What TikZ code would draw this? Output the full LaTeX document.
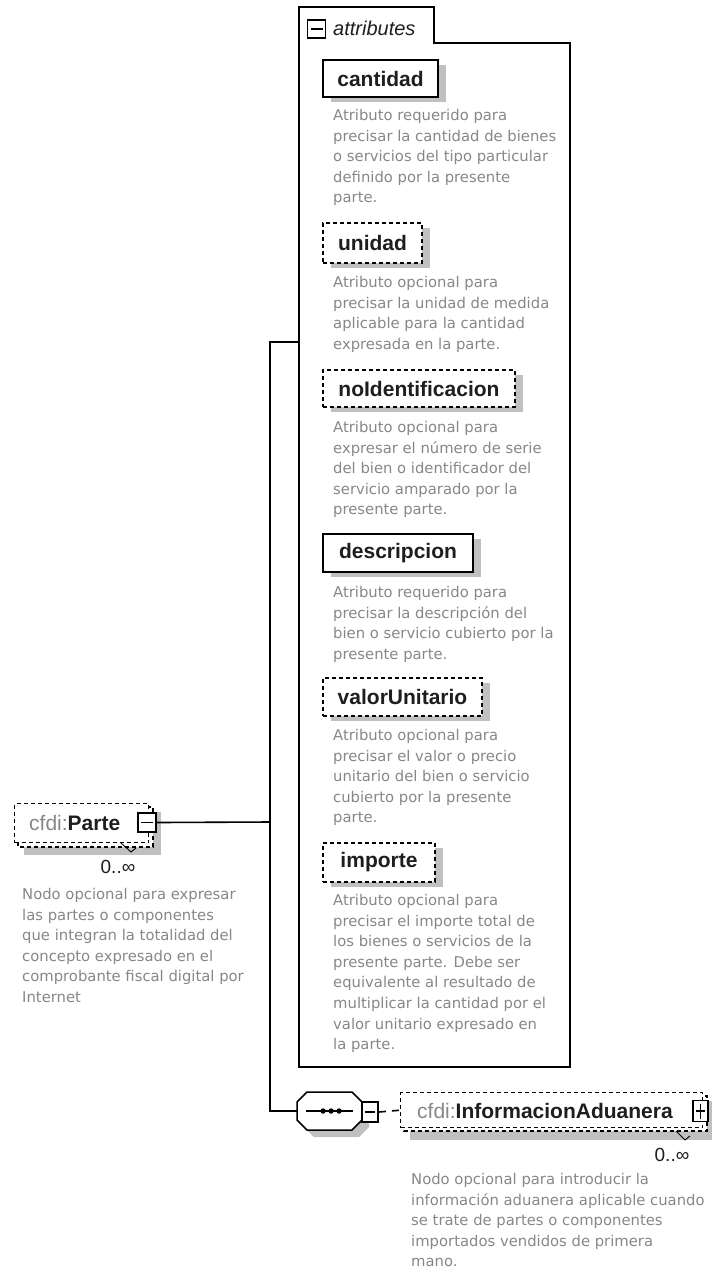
\documentclass[tikz,border=0pt]{standalone}
\usepackage{fontspec}
\setmainfont{Liberation Sans}
\newfontfamily\descfont{DejaVu Sans}
\usetikzlibrary{shadows}
\definecolor{descgray}{RGB}{135,135,135}
\definecolor{shadegray}{RGB}{192,192,192}
\definecolor{labelc}{RGB}{30,30,30}
\tikzset{
  attr/.style={draw, line width=1.5pt, fill=white, inner sep=0pt,
    font=\fontsize{21}{25}\selectfont\bfseries, text=labelc,
    drop shadow={shadow xshift=8pt, shadow yshift=-5pt, fill=shadegray, opacity=1}},
  opt/.style={dash pattern=on 4pt off 3pt, line width=1.4pt},
  desc/.style={anchor=north west, inner sep=0pt, align=left, text=descgray,
    font=\descfont\fontsize{14.8}{20.6}\selectfont},
  icon/.style={draw, line width=1.8pt, fill=white, inner sep=0pt,
    minimum width=16pt, minimum height=19pt},
  minusicon/.style={icon, path picture={\draw[line width=1.4pt]
    ([xshift=3pt]path picture bounding box.west) -- ([xshift=-3pt]path picture bounding box.east);}},
  plusicon/.style={icon, path picture={\draw[line width=1.4pt]
    ([xshift=3pt]path picture bounding box.west) -- ([xshift=-3pt]path picture bounding box.east)
    ([yshift=-3pt]path picture bounding box.north) -- ([yshift=3pt]path picture bounding box.south);}},
  conn/.style={line width=1.6pt},
  elemlbl/.style={inner sep=0pt, anchor=west, font=\fontsize{21}{25}\selectfont, text=labelc},
  occ/.style={inner sep=0pt, font=\fontsize{19}{21}\selectfont, text=labelc},
}
\begin{document}
\begin{tikzpicture}[x=1pt,y=-1pt]
\useasboundingbox (0,0) rectangle (712,1270);

% attributes container
\draw[line width=1.6pt] (299,1067) -- (299,7) -- (434,7) -- (434,43) -- (570,43) -- (570,1067) -- cycle;
\coordinate (attrL) at (299,342);
\node[minusicon, minimum width=18pt, minimum height=18pt] (attricon) at (316.5,29) {};
\node[inner sep=0pt, anchor=west, font=\fontsize{20}{24}\selectfont\itshape, text=labelc] (attrlbl) at (333,28) {attributes};

% attributes
\node[attr, minimum width=115pt, minimum height=37pt] (cantidad) at (380.5,78.5) {cantidad};
\node[desc] (dcantidad) at (333,109) {Atributo requerido para\\precisar la cantidad de bienes\\o servicios del tipo particular\\definido por la presente\\parte.};

\node[attr, opt, minimum width=99pt, minimum height=40pt] (unidad) at (372.5,243) {unidad};
\node[desc] (dunidad) at (333,276) {Atributo opcional para\\precisar la unidad de medida\\aplicable para la cantidad\\expresada en la parte.};

\node[attr, opt, minimum width=192pt, minimum height=37pt] (noid) at (419,388.5) {noIdentificacion};
\node[desc] (dnoid) at (333,421) {Atributo opcional para\\expresar el número de serie\\del bien o identificador del\\servicio amparado por la\\presente parte.};

\node[attr, minimum width=150pt, minimum height=38pt] (descripcion) at (398,553) {descripcion};
\node[desc] (ddescripcion) at (333,586) {Atributo requerido para\\precisar la descripción del\\bien o servicio cubierto por la\\presente parte.};

\node[attr, opt, minimum width=159pt, minimum height=38pt] (valor) at (402.5,697) {valorUnitario};
\node[desc] (dvalor) at (333,729) {Atributo opcional para\\precisar el valor o precio\\unitario del bien o servicio\\cubierto por la presente\\parte.};

\node[attr, opt, minimum width=112pt, minimum height=39pt] (importe) at (379,862.5) {importe};
\node[desc] (dimporte) at (333,894) {Atributo opcional para\\precisar el importe total de\\los bienes o servicios de la\\presente parte. Debe ser\\equivalente al resultado de\\multiplicar la cantidad por el\\valor unitario expresado en\\la parte.};

% cfdi:Parte element
\fill[shadegray] (24,812) rectangle (161,855);
\draw[opt, fill=white] (18,807) rectangle (153,847);
\node[opt, draw, fill=white, inner sep=0pt, anchor=north west, minimum width=134pt, minimum height=39pt] (parte) at (14,803) {};
\node[elemlbl] (partelbl) at (29,823) {\textcolor{descgray}{cfdi:}\textbf{Parte}};
\node[minusicon, minimum width=18pt] (parteicon) at (147,822.5) {};
\draw[line width=0.9pt] (121,843) -- (131,852) -- (136,848);
\node[occ] (parteocc) at (118,867) {0..∞};
\node[desc] (dparte) at (22,888) {Nodo opcional para expresar\\las partes o componentes\\que integran la totalidad del\\concepto expresado en el\\comprobante fiscal digital por\\Internet};

% sequence compositor
\fill[shadegray] (314,1099) -- (359,1099) -- (369,1109) -- (369,1127) -- (359,1137) -- (314,1137) -- (304,1127) -- (304,1109) -- cycle;
\draw[line width=1.5pt, fill=white] (307,1092) -- (352,1092) -- (362,1102) -- (362,1120) -- (352,1130) -- (307,1130) -- (297,1120) -- (297,1102) -- cycle;
\coordinate (seqW) at (297,1111);
\draw[line width=1.4pt] (306,1111) -- (353,1111);
\fill (323,1111) circle (2.7pt) (331,1111) circle (2.7pt) (339,1111) circle (2.7pt);
\node[minusicon, minimum height=20pt] (seqicon) at (370,1112) {};

% cfdi:InformacionAduanera element
\fill[shadegray] (410,1101) rectangle (712,1140);
\draw[opt, fill=white] (404,1096) rectangle (707,1131);
\node[opt, draw, fill=white, inner sep=0pt, anchor=north west, minimum width=302pt, minimum height=35pt] (info) at (400,1092) {};
\node[elemlbl] (infolbl) at (417,1111) {\textcolor{descgray}{cfdi:}\textbf{InformacionAduanera}};
\node[plusicon, minimum width=15pt, minimum height=21pt] (infoicon) at (700.5,1111) {};
\draw[line width=0.9pt] (676,1131) -- (685,1140) -- (690,1136);
\node[occ] (infoocc) at (672,1155) {0..∞};
\node[desc] (dinfo) at (411,1173) {Nodo opcional para introducir la\\información aduanera aplicable cuando\\se trate de partes o componentes\\importados vendidos de primera\\mano.};

% connectors
\coordinate (trunkTop) at (270,342);
\coordinate (trunkBot) at (270,1111);
\coordinate (trunkMid) at (270,822);
\draw[conn] (parteicon.east) -- (trunkMid);
\draw[conn] (attrL) -- (trunkTop) -- (trunkBot) -- (seqW);
\draw[conn, dash pattern=on 7pt off 6pt] (seqicon.east) -- (info.west);
\end{tikzpicture}
\end{document}
